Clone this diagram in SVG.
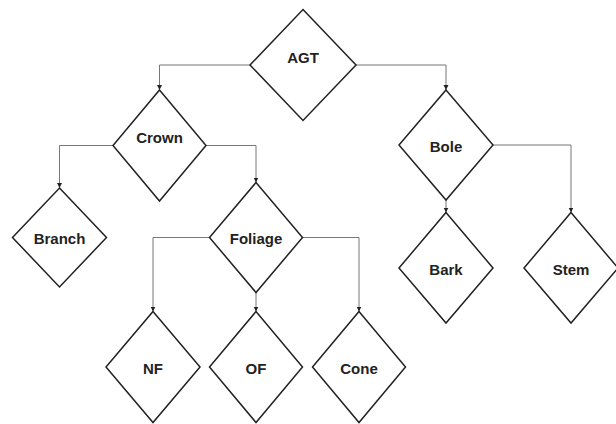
<svg xmlns="http://www.w3.org/2000/svg" width="616" height="424" viewBox="0 0 616 424">
  <style>
    .node polygon { fill: #ffffff; stroke: #222222; stroke-width: 1.5; }
    .node text { font-family: "Liberation Sans", Arial, sans-serif; font-size: 15px; font-weight: bold; fill: #222222; text-anchor: middle; dominant-baseline: central; }
    .edge { fill: none; stroke: #777777; stroke-width: 1; marker-end: url(#arrow); }
  </style>
  <defs>
    <marker id="arrow" markerWidth="6" markerHeight="6" refX="5" refY="3" orient="auto" markerUnits="userSpaceOnUse">
      <path d="M0,0.5 L5,3 L0,5.5 Z" fill="#222222"/>
    </marker>
  </defs>
  <rect width="616" height="424" fill="#ffffff"/>

  <!-- connectors -->
  <g id="connectors">
    <path class="edge" d="M250,65 H159.5 V90"/>
    <path class="edge" d="M356,65 H446 V90"/>
    <path class="edge" d="M113,145.5 H59.5 V188"/>
    <path class="edge" d="M206,145.5 H256 V182.5"/>
    <path class="edge" d="M209.5,237.5 H153 V311.5"/>
    <path class="edge" d="M256,292.5 V311.5"/>
    <path class="edge" d="M302.5,237.5 H359 V311.5"/>
    <path class="edge" d="M446,200 V212.5"/>
    <path class="edge" d="M493,145 H571 V212.5"/>
  </g>

  <!-- nodes -->
  <g id="agt" class="node">
    <polygon points="303,9.5 356,65 303,120.5 250,65"/>
    <text x="303" y="57">AGT</text>
  </g>
  <g id="crown" class="node">
    <polygon points="159.5,90 206,145.5 159.5,201 113,145.5"/>
    <text x="159.5" y="137">Crown</text>
  </g>
  <g id="bole" class="node">
    <polygon points="446,90 493,145 446,200 399,145"/>
    <text x="446" y="146">Bole</text>
  </g>
  <g id="branch" class="node">
    <polygon points="59.5,188 106.5,237.5 59.5,287 12.5,237.5"/>
    <text x="59.5" y="238">Branch</text>
  </g>
  <g id="foliage" class="node">
    <polygon points="256,182.5 302.5,237.5 256,292.5 209.5,237.5"/>
    <text x="256" y="238">Foliage</text>
  </g>
  <g id="bark" class="node">
    <polygon points="446,212.5 493,268 446,323 399,268"/>
    <text x="446" y="269">Bark</text>
  </g>
  <g id="stem" class="node">
    <polygon points="571,212.5 618,268 571,323 524,268"/>
    <text x="571" y="269">Stem</text>
  </g>
  <g id="nf" class="node">
    <polygon points="153,311.5 200,367 153,422.5 106,367"/>
    <text x="153" y="368">NF</text>
  </g>
  <g id="of" class="node">
    <polygon points="256,311.5 302.5,367 256,422.5 209.5,367"/>
    <text x="256" y="368">OF</text>
  </g>
  <g id="cone" class="node">
    <polygon points="359,311.5 405.5,367 359,422.5 312.5,367"/>
    <text x="359" y="368">Cone</text>
  </g>
</svg>
